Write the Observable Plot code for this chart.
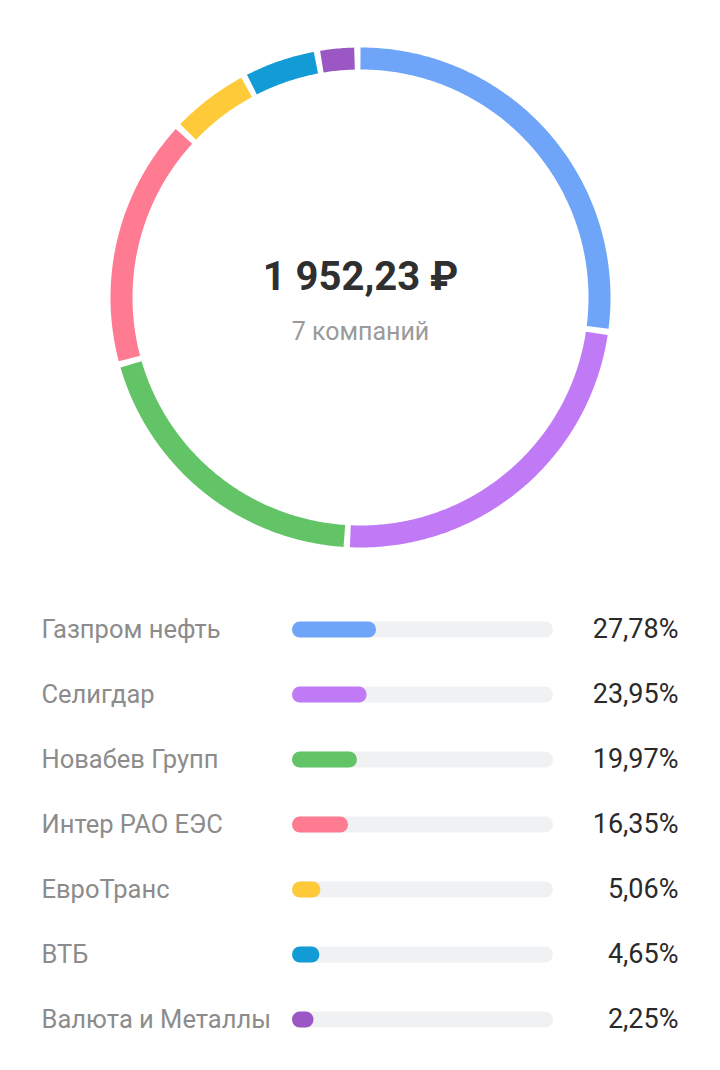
<!DOCTYPE html>
<html>
<head>
<meta charset="utf-8">
<script src="https://cdn.jsdelivr.net/npm/d3@7"></script>
<script src="https://cdn.jsdelivr.net/npm/@observablehq/plot@0.6"></script>
<style>
  html, body { margin: 0; padding: 0; background: #fff; }
  #chart svg { display: block; }
</style>
</head>
<body>
<div id="chart"></div>
<script>
const companies = ["Газпром нефть", "Селигдар", "Новабев Групп", "Интер РАО ЕЭС", "ЕвроТранс", "ВТБ", "Валюта и Металлы"];
const shares = [27.78, 23.95, 19.97, 16.35, 5.06, 4.65, 2.25];
const shareLabels = ["27,78%", "23,95%", "19,97%", "16,35%", "5,06%", "4,65%", "2,25%"];
const colors = ["#6fa5f9", "#c17af6", "#63c467", "#ff7b92", "#ffca3a", "#139bd6", "#9b58c4"];
const totalLabel = "1 952,23 ₽";
const countLabel = "7 компаний";

const FONT = "Roboto, 'Noto Sans', sans-serif";
const gapDeg = 1.44;
const ringR = 239;
const sumShares = d3.sum(shares);
const available = 360 - companies.length * gapDeg;

// Build arc polylines from data
const arcPts = [];
let start = 0;
companies.forEach((name, i) => {
  const span = shares[i] / sumShares * available;
  const end = start + span;
  const n = Math.max(4, Math.ceil(span / 0.5));
  for (let k = 0; k <= n; k++) {
    const a = (start + span * k / n) * Math.PI / 180;
    arcPts.push({name, x: ringR * Math.sin(a), y: ringR * Math.cos(a)});
  }
  start = end + gapDeg;
});

const donut = Plot.plot({
  width: 720,
  height: 590,
  marginLeft: 110,
  marginRight: 110,
  marginTop: 47,
  marginBottom: 43,
  x: {domain: [-250, 250], axis: null},
  y: {domain: [-250, 250], axis: null},
  color: {domain: companies, range: colors},
  style: {fontFamily: FONT, background: "#fff"},
  marks: [
    Plot.line(arcPts, {x: "x", y: "y", z: "name", stroke: "name", strokeWidth: 22, strokeLinecap: "butt", strokeLinejoin: "round"}),
    Plot.text([totalLabel], {frameAnchor: "middle", text: d => d, dy: -20, fontSize: 40, fontWeight: 700, fill: "#2f2f2f"}),
    Plot.text([countLabel], {frameAnchor: "middle", text: d => d, dy: 34, fontSize: 25, fill: "#9a9a9a"})
  ]
});

const rows = companies.map((name, i) => ({name, share: shares[i], label: shareLabels[i]}));

const list = Plot.plot({
  width: 720,
  height: 480,
  marginLeft: 41,
  marginRight: 42,
  marginTop: 0,
  marginBottom: 0,
  x: {domain: [0, 100], range: [300, 545], axis: null},
  y: {type: "point", domain: companies, range: [39, 429], padding: 0, axis: null},
  color: {domain: companies, range: colors},
  style: {fontFamily: FONT, background: "#fff"},
  marks: [
    Plot.ruleY(rows, {y: "name", x1: 0, x2: 100, stroke: "#f0f1f3", strokeWidth: 16, strokeLinecap: "round"}),
    Plot.ruleY(rows, {y: "name", x1: 0, x2: "share", stroke: "name", strokeWidth: 16, strokeLinecap: "round"}),
    Plot.text(rows, {y: "name", text: "name", frameAnchor: "left", textAnchor: "start", fontSize: 25.5, fill: "#8c8c8c"}),
    Plot.text(rows, {y: "name", text: "label", frameAnchor: "right", textAnchor: "end", fontSize: 27, fill: "#2a2a2a"})
  ]
});

const root = document.getElementById("chart");
root.appendChild(donut);
root.appendChild(list);
</script>
</body>
</html>
